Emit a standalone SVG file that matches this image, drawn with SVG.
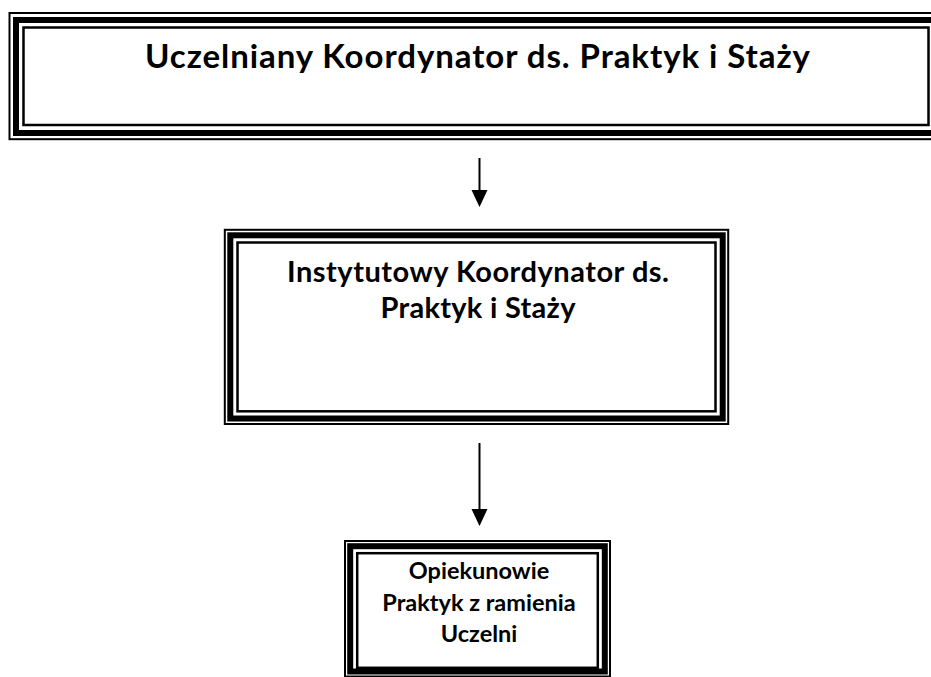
<svg xmlns="http://www.w3.org/2000/svg" width="931" height="677" viewBox="0 0 931 677">
  <style>
    .o { fill: none; stroke: #000; stroke-width: 2; }
    .k { fill: none; stroke: #000; stroke-width: 6; }
    .i { fill: none; stroke: #000; stroke-width: 2.5; }
    .t { font-family: Lato, "Open Sans", "Liberation Sans", sans-serif; font-weight: bold; fill: #000; text-anchor: middle; }
    .c { stroke: #000; stroke-width: 2; fill: none; }
  </style>
  <defs>
    <marker id="ah" markerUnits="userSpaceOnUse" markerWidth="17" markerHeight="16" refX="0" refY="8" orient="auto" overflow="visible">
      <path d="M0,0 L17,8 L0,16 z" fill="#000"/>
    </marker>
  </defs>
  <rect width="931" height="677" fill="#fff"/>

  <g id="node-uczelniany">
    <rect class="o" x="9.5" y="13" width="940" height="126.2"/>
    <rect class="k" x="16" y="20" width="920" height="113"/>
    <rect class="i" x="23.5" y="27.5" width="905" height="97.5"/>
    <text class="t" x="477.5" y="68" font-size="33" textLength="665" lengthAdjust="spacing">Uczelniany Koordynator  ds. Praktyk i Staży</text>
  </g>

  <g id="node-instytutowy">
    <rect class="o" x="224.8" y="229.8" width="503.4" height="194.2"/>
    <rect class="k" x="230.3" y="235.3" width="492.4" height="183.2"/>
    <rect class="i" x="237.5" y="242.5" width="478" height="168.8"/>
    <text class="t" x="478" y="281.7" font-size="29" textLength="382" lengthAdjust="spacing">Instytutowy Koordynator ds.</text>
    <text class="t" x="478" y="318" font-size="29" textLength="195" lengthAdjust="spacing">Praktyk i Staży</text>
  </g>

  <g id="node-opiekunowie">
    <rect class="o" x="345" y="541" width="265" height="135.5"/>
    <rect class="k" x="350.2" y="546.2" width="254.6" height="125.3"/>
    <rect class="i" x="357.2" y="553.2" width="240.6" height="114.6"/>
    <text class="t" x="479" y="578.5" font-size="23.5">Opiekunowie</text>
    <text class="t" x="479" y="610.5" font-size="23.5">Praktyk z ramienia</text>
    <text class="t" x="479" y="642" font-size="23.5">Uczelni</text>
  </g>

  <g id="connectors">
    <line class="c" x1="479.5" y1="158" x2="479.5" y2="190" marker-end="url(#ah)"/>
    <line class="c" x1="479.5" y1="443" x2="479.5" y2="509" marker-end="url(#ah)"/>
  </g>
</svg>
